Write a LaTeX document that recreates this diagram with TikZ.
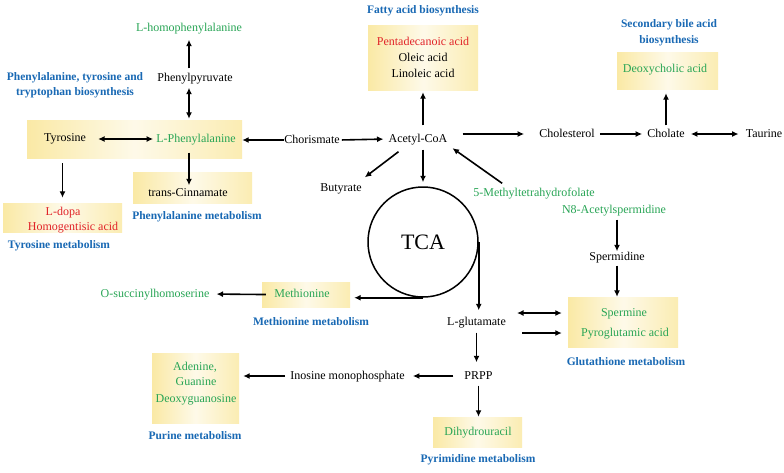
\documentclass[tikz,border=0pt]{standalone}
\usepackage{fontspec}
\setmainfont{Liberation Serif}
\usetikzlibrary{arrows.meta,calc}
\definecolor{mgreen}{RGB}{40,165,85}
\definecolor{mred}{RGB}{225,35,40}
\definecolor{mblue}{RGB}{25,105,180}
\definecolor{boxy}{RGB}{250,233,165}
\begin{document}
\begin{tikzpicture}[x=1pt,y=-1pt,
  txt/.style={inner sep=0pt, text height=8.5pt, text depth=2.5pt, font=\fontsize{12}{14}\selectfont},
  grn/.style={txt, text=mgreen},
  rd/.style={txt, text=mred},
  ttl/.style={inner sep=0pt, text height=8pt, text depth=2.3pt, text=mblue, font=\fontsize{11.5}{13}\selectfont\bfseries},
  ybox/.style={draw=none, inner sep=0pt, left color=boxy, right color=boxy!85, middle color=boxy!25!white},
  arr/.style={line width=1.6pt, -{Latex[length=6.5pt,width=6pt]}},
  darr/.style={line width=1.6pt, {Latex[length=6.5pt,width=6pt]}-{Latex[length=6.5pt,width=6pt]}},
]
\fill[white] (0,0) rectangle (784,472);
\useasboundingbox (0,0) rectangle (784,472);

% boxes
\node[ybox, minimum width=215pt, minimum height=38pt] (bigbox) at (134.5,139) {};
\node[ybox, minimum width=110pt, minimum height=65pt] (fattybox) at (423,57.5) {};
\node[ybox, minimum width=101pt, minimum height=37pt] (deoxybox) at (667.5,70.5) {};
\node[ybox, minimum width=119pt, minimum height=29pt] (ldopabox) at (62.5,217.5) {};
\node[ybox, minimum width=119pt, minimum height=31pt] (cinnbox) at (192.5,187.5) {};
\node[ybox, minimum width=88pt, minimum height=25pt] (methbox) at (306,294.5) {};
\node[ybox, minimum width=110pt, minimum height=50pt] (spermbox) at (623,322) {};
\node[ybox, minimum width=87pt, minimum height=70pt] (adebox) at (195.5,388) {};
\node[ybox, minimum width=89pt, minimum height=30pt] (dhbox) at (477.5,432) {};

% texts
\node[grn] (homo) at (189,28) {L-homophenylalanine};
\node[txt] (phpyr) at (195,78) {Phenylpyruvate};
\node[ttl] (t1a) at (75,78) {Phenylalanine, tyrosine and};
\node[ttl] (t1b) at (75,93) {tryptophan biosynthesis};
\node[txt] (tyr) at (65,138) {Tyrosine};
\node[grn] (lphe) at (196,139) {L-Phenylalanine};
\node[txt] (chor) at (312,140) {Chorismate};
\node[txt] (acoa) at (418,139) {Acetyl-CoA};
\node[ttl] (tfat) at (423,11) {Fatty acid biosynthesis};
\node[rd] (penta) at (423,42) {Pentadecanoic acid};
\node[txt] (oleic) at (423,58) {Oleic acid};
\node[txt] (lino) at (423,74) {Linoleic acid};
\node[txt] (chol) at (567,134) {Cholesterol};
\node[txt] (cholate) at (666,134) {Cholate};
\node[txt] (taur) at (764,134) {Taurine};
\node[ttl] (tbile1) at (669,25) {Secondary bile acid};
\node[ttl] (tbile2) at (669,41) {biosynthesis};
\node[grn] (deoxy) at (665,69) {Deoxycholic acid};
\node[rd] (ldopa) at (63,212) {L-dopa};
\node[rd] (homog) at (73,227) {Homogentisic acid};
\node[ttl] (ttyr) at (59,246) {Tyrosine metabolism};
\node[txt] (cinn) at (188,193) {trans-Cinnamate};
\node[ttl] (tphe) at (197,217) {Phenylalanine metabolism};
\node[txt] (buty) at (341,188) {Butyrate};
\node[circle, draw, line width=1.5pt, minimum size=110pt, inner sep=0pt, font=\fontsize{22}{26}\selectfont] (tca) at (423,242) {TCA};
\node[grn] (mthf) at (534,193) {5-Methyltetrahydrofolate};
\node[grn] (n8) at (614,210) {N8-Acetylspermidine};
\node[txt] (sperd) at (617,257) {Spermidine};
\node[grn] (sperm) at (624,313) {Spermine};
\node[grn] (pyro) at (625,333) {Pyroglutamic acid};
\node[ttl] (tglu) at (626,363) {Glutathione metabolism};
\node[grn] (meth) at (302,294) {Methionine};
\node[grn] (osuc) at (155,294) {O-succinylhomoserine};
\node[ttl] (tmeth) at (311,323) {Methionine metabolism};
\node[txt] (lglu) at (476.5,322) {L-glutamate};
\node[txt] (prpp) at (478.5,376) {PRPP};
\node[txt] (imp) at (347.5,376) {Inosine monophosphate};
\node[grn] (ade) at (195,367) {Adenine,};
\node[grn] (gua) at (196,382) {Guanine};
\node[grn] (dguo) at (196,399) {Deoxyguanosine};
\node[ttl] (tpur) at (195,437) {Purine metabolism};
\node[grn] (dh) at (478,432) {Dihydrouracil};
\node[ttl] (tpyr) at (478,460) {Pyrimidine metabolism};

% connectors
\draw[arr, shorten <=4pt, shorten >=6pt] (phpyr.north -| homo) -- (homo.south);
\draw[darr, shorten <=4pt, shorten >=1pt] (phpyr.south -| homo) -- (bigbox.north -| homo);
\draw[darr, shorten <=12pt, shorten >=3pt] (tyr.east |- lphe) -- (lphe.west);
\draw[arr] (chor.west) -- (chor.west -| bigbox.east);
\draw[arr, shorten <=2pt, shorten >=5pt] (chor.east) -- (acoa.west);
\draw[arr, shorten <=8pt, shorten >=2pt] (acoa.north -| fattybox) -- (fattybox.south);
\draw[arr, shorten <=15pt, shorten >=15pt] (acoa.east |- chol) -- (chol.west);
\draw[arr, shorten <=5pt, shorten >=5pt] (chol.east) -- (cholate.west);
\draw[darr, shorten <=6pt, shorten >=7pt] (cholate.east) -- (taur.west);
\draw[arr, shorten <=3pt, shorten >=4pt] (cholate.north) -- (cholate.north |- deoxybox.south);
\draw[arr, shorten <=5pt, shorten >=5pt] (ldopabox.north |- bigbox.south) -- (ldopabox.north);
\draw[arr, shorten <=8pt, shorten >=2pt] (lphe.south -| homo) -- (cinn.north -| homo);
\draw[arr] ($(acoa.south west)+(10,7)$) -- ($(buty.north east)+(3,-5)$);
\draw[arr, shorten <=5pt, shorten >=4pt] (acoa.south -| tca) -- (tca.north);
\draw[arr] ($(mthf.north west)+(29,-4)$) -- ($(acoa.south east)+(5,3.5)$);
\draw[arr, shorten <=4pt] (sperd.north |- n8.south) -- (sperd.north);
\draw[arr, shorten <=3pt] (sperd.south) -- (sperd.south |- spermbox.north);
\draw[arr, shorten >=4pt] (tca.south) -- (tca.south -| methbox.east);
\draw[arr, shorten >=6pt] (tca.east) -- (tca.east |- lglu.north);
\draw[arr, shorten <=-4pt, shorten >=7pt] (methbox.west) -- (osuc.east);
\draw[darr, shorten <=11pt, shorten >=6pt] (lglu.east |- sperm) -- (spermbox.west |- sperm);
\draw[arr, shorten <=16pt, shorten >=6pt] (lglu.east |- pyro) -- (spermbox.west |- pyro);
\draw[arr, shorten <=5pt, shorten >=8pt] (lglu.south) -- (lglu.south |- prpp.north);
\draw[arr, shorten <=11pt, shorten >=8pt] (prpp.west) -- (imp.east);
\draw[arr, shorten <=5pt, shorten >=4pt] (imp.west) -- (adebox.east |- imp);
\draw[arr, shorten <=4pt] (prpp.south) -- (prpp.south |- dhbox.north);
\end{tikzpicture}
\end{document}
